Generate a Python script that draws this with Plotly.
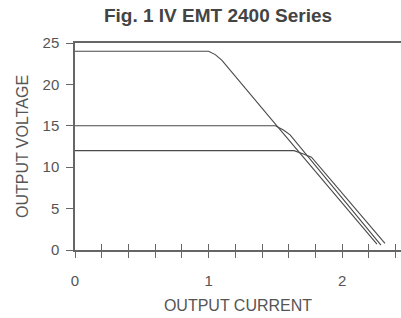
import plotly.graph_objects as go

# Data (OUTPUT CURRENT vs OUTPUT VOLTAGE)
cur_24 = [0.0, 1.0, 1.05, 1.10, 1.50, 2.26]
volt_24 = [24.0, 24.0, 23.6, 22.9, 15.2, 0.7]

cur_15 = [0.0, 1.50, 1.56, 1.61, 2.29]
volt_15 = [15.0, 15.0, 14.5, 13.9, 0.6]

cur_12 = [0.0, 1.64, 1.71, 1.77, 2.32]
volt_12 = [12.0, 12.0, 11.6, 11.2, 0.8]

x_tickvals = [0, 0.2, 0.4, 0.6, 0.8, 1.0, 1.2, 1.4, 1.6, 1.8, 2.0, 2.2, 2.4]
x_ticktext = ["0", "", "", "", "", "1", "", "", "", "", "2", "", ""]
y_tickvals = [0, 5, 10, 15, 20, 25]

line_col = "#4a4a4a"
axis_col = "#666666"
font_col = "#555555"

fig = go.Figure()
for xs, ys in [(cur_24, volt_24), (cur_15, volt_15), (cur_12, volt_12)]:
    fig.add_trace(go.Scatter(x=xs, y=ys, mode="lines",
                             line=dict(color=line_col, width=1.1),
                             showlegend=False, hoverinfo="skip"))

# invisible trace on overlay axis so inside ticks render
fig.add_trace(go.Scatter(x=[0], y=[0], xaxis="x2", mode="markers",
                         marker=dict(opacity=0), showlegend=False, hoverinfo="skip"))

fig.update_layout(
    width=401, height=318,
    margin=dict(l=75, r=0, t=43, b=68),
    paper_bgcolor="white", plot_bgcolor="white",
    font=dict(family="Liberation Sans, Arial, sans-serif", size=15, color=font_col),
    title=dict(text="<b>Fig. 1 IV EMT 2400 Series</b>", x=218 / 401, xanchor="center",
               y=1 - 15 / 318, yanchor="middle", font=dict(size=19, color="#444444")),
    xaxis=dict(range=[0, 2.44], tickvals=x_tickvals, ticktext=x_ticktext,
               showgrid=False, zeroline=False, showline=True, linecolor=axis_col,
               linewidth=1.5, mirror=True, ticks="outside", ticklen=6,
               tickcolor=axis_col, tickwidth=1.2, ticklabelstandoff=10,
               title=dict(text="OUTPUT CURRENT", standoff=12,
                          font=dict(size=16, color=font_col))),
    xaxis2=dict(range=[0, 2.44], tickvals=x_tickvals, overlaying="x",
                showticklabels=False, showgrid=False, zeroline=False,
                ticks="inside", ticklen=6, tickcolor=axis_col, tickwidth=1.2,
                side="bottom", anchor="y"),
    yaxis=dict(range=[0, 25], tickvals=y_tickvals, showgrid=False, zeroline=False,
               showline=True, linecolor=axis_col, linewidth=1.5,
               ticks="outside", ticklen=7, tickcolor=axis_col, tickwidth=1.2,
               ticklabelstandoff=4,
               title=dict(text="OUTPUT VOLTAGE", standoff=10,
                          font=dict(size=16, color=font_col))),
)

fig.write_html("out.html", config={"displayModeBar": False},
               post_script="document.body.style.margin='0';document.body.style.overflow='hidden';")
